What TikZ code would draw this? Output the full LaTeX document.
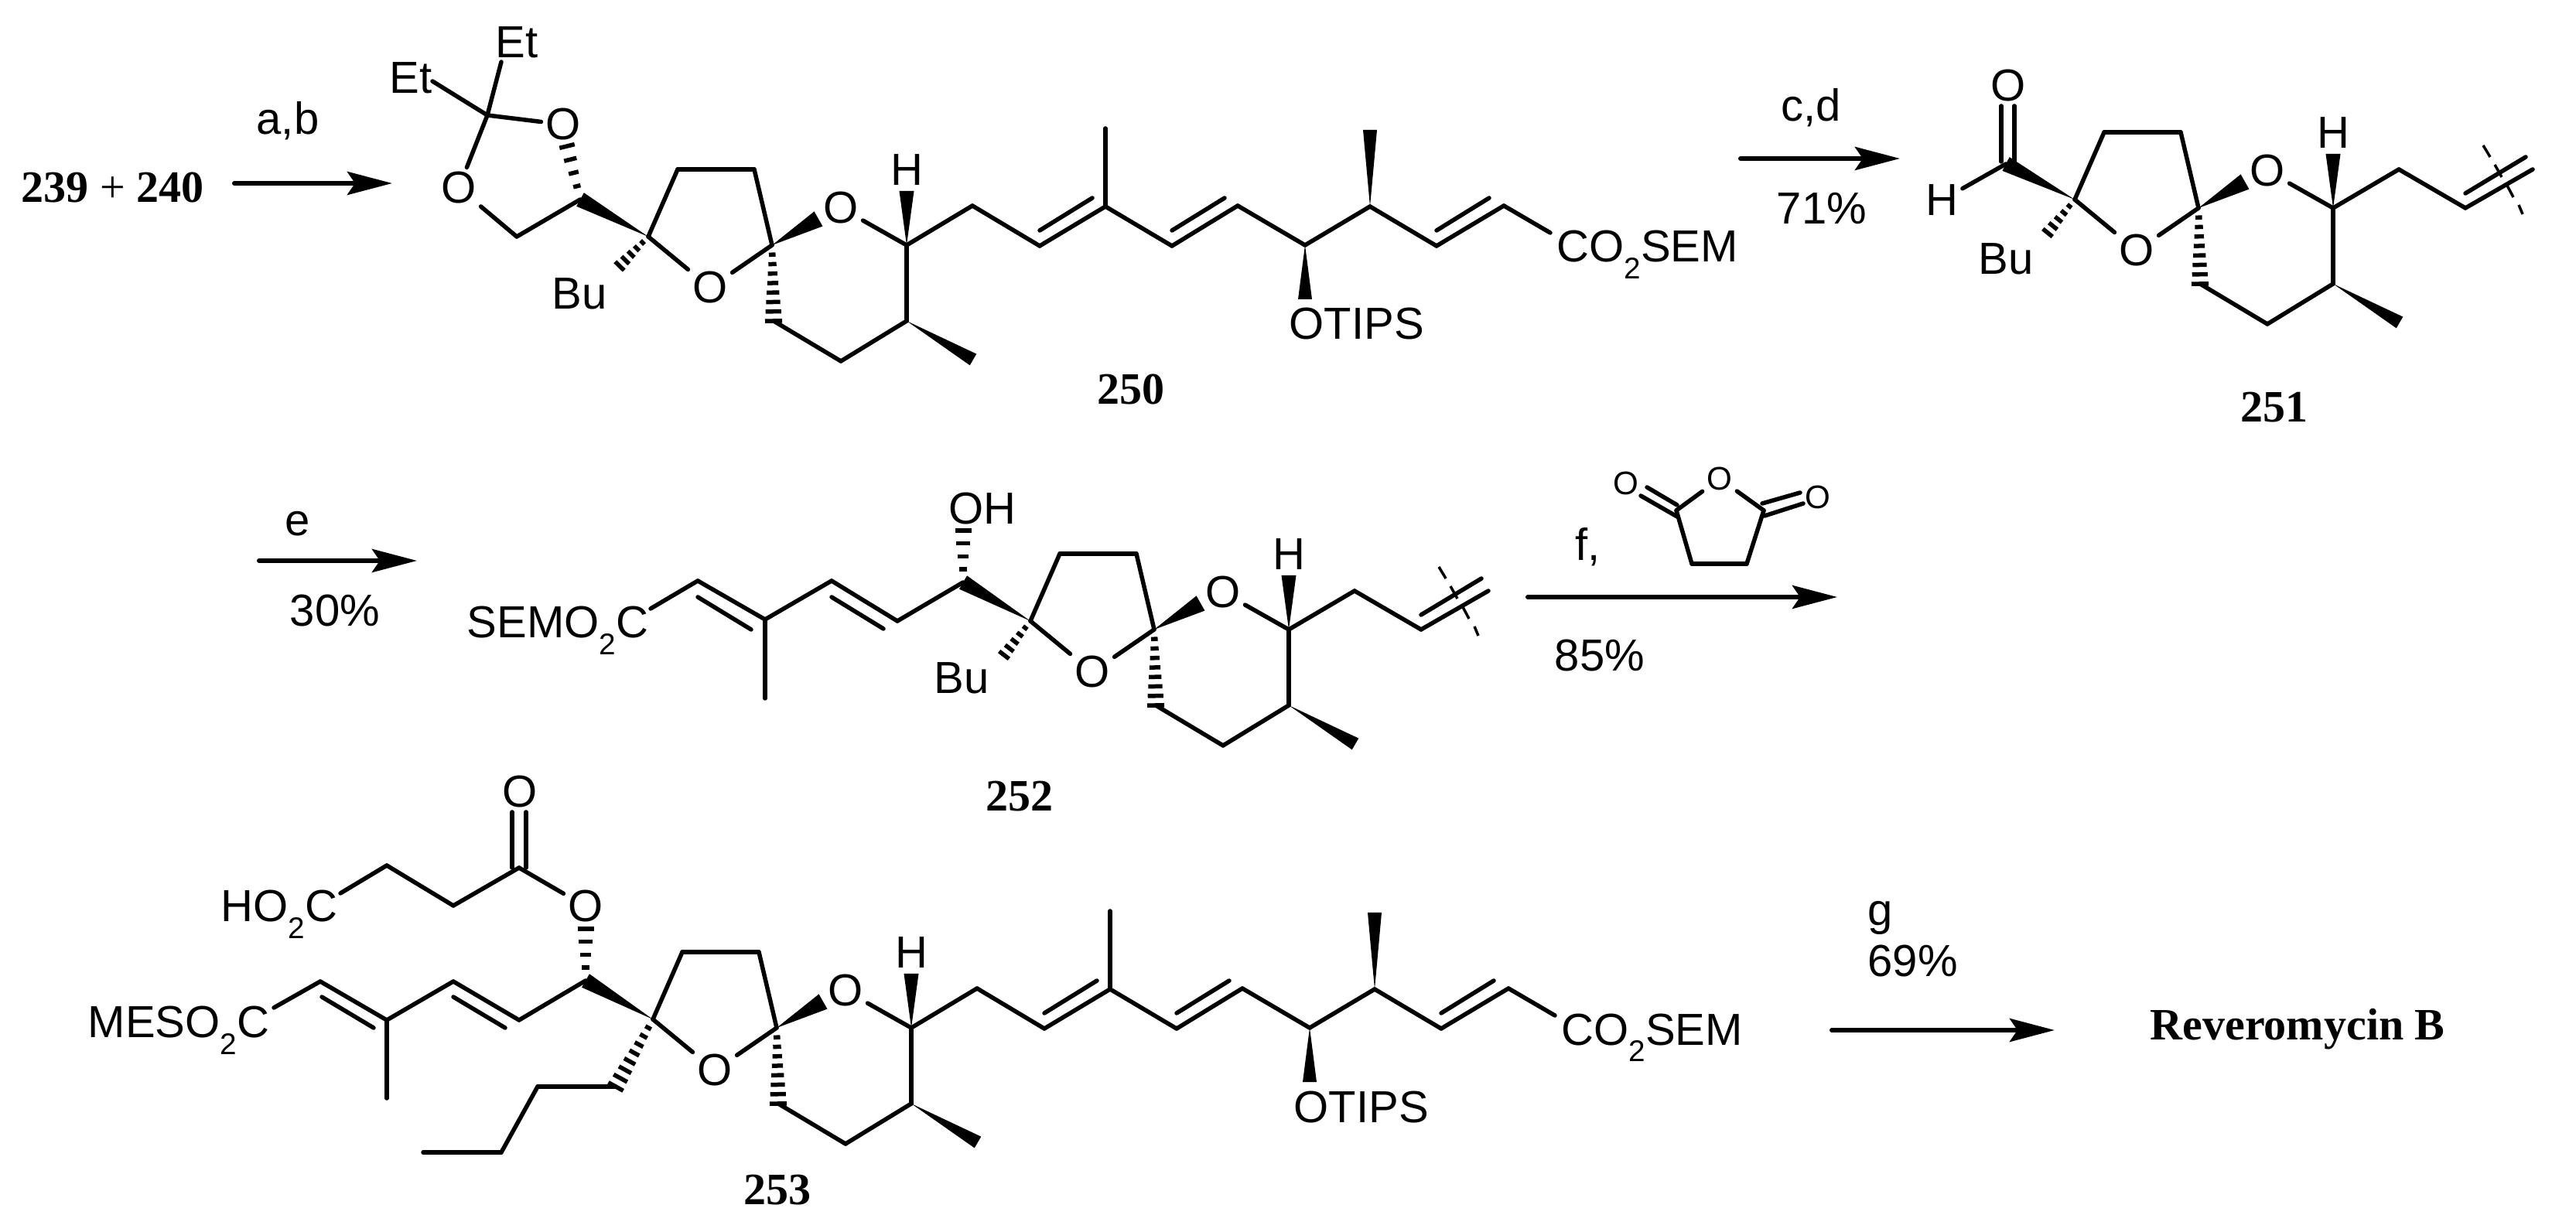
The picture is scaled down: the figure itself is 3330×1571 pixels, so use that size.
\documentclass[tikz,border=0pt]{standalone}
\usepackage{fontspec}
\setmainfont{Liberation Sans}
\newfontfamily\cmpdfont{Liberation Serif}
\usetikzlibrary{arrows.meta,calc}

\tikzset{
	bond/.style={line width=0.055cm,line cap=round},
	hash/.style={line width=0.055cm},
	squig/.style={line width=0.035cm},
	rxn/.style={line width=0.06cm,line cap=round,-{Stealth[length=0.58cm,width=0.3cm,inset=0.1cm]}},
	atom/.style={font=\fontsize{16.5}{18}\selectfont,inner sep=1.5pt},
	txt/.style={font=\fontsize{16.5}{18}\selectfont,inner sep=0pt},
	smallatom/.style={font=\fontsize{12}{14}\selectfont,inner sep=1.5pt},
	cmpd/.style={font=\cmpdfont\fontsize{16.5}{18}\selectfont,inner sep=0pt}
}

\newcommand{\lowtwo}{\raisebox{-6pt}{\fontsize{11}{11}\selectfont 2}}
\newcommand{\wedgebond}[3]{\fill ($(#2)!#3!90:(#1)$) -- (#1) -- ($(#2)!#3!-90:(#1)$) -- cycle;}
\newcommand{\hashbond}[4]{\foreach \i in {1,...,#3}{
	\pgfmathsetmacro{\hf}{\i/#3}
	\coordinate (hp) at ($(#1)!\hf!(#2)$);
	\draw[hash] ($(hp)!{(0.3+0.7*\hf)*#4}!90:(#1)$) -- ($(hp)!{(0.3+0.7*\hf)*#4}!-90:(#1)$);}}

% spiroketal core
\newcommand{\spirocore}[3]{
\begin{scope}[shift={(#2,#3)},name prefix=#1-]
	\coordinate (c2) at (838,306);
	\coordinate (r1) at (876,219);
	\coordinate (r2) at (975,219);
	\coordinate (sp) at (998,317);
	\coordinate (wo) at (1058,283);
	\coordinate (hc) at (1172,317);
	\coordinate (hw) at (1172,247);
	\coordinate (c8) at (1172,415);
	\coordinate (me) at (1258,465);
	\coordinate (c7) at (1087,467);
	\coordinate (c6) at (1000,415);
	\node[atom] (ra) at (918,372) {O};
	\node[atom] (rb) at (1087,269) {O};
	\node[atom] (hl) at (1172,220) {H};

	\path[bond] (c2) edge (r1) (r1) edge (r2) (r2) edge (sp);
	\path[bond] (c2) edge (ra) (sp) edge (ra) (rb) edge (hc);
	\path[bond] (hc) edge (c8) (c8) edge (c7) (c7) edge (c6);
	\wedgebond{sp}{wo}{0.11cm}
	\wedgebond{hc}{hw}{0.095cm}
	\wedgebond{c8}{me}{0.085cm}
	\hashbond{sp}{c6}{8}{0.11cm}
\end{scope}}

% long side chain
\newcommand{\dienechain}[3]{
\begin{scope}[shift={(#2,#3)},name prefix=#1-]
	\coordinate (a0) at (1172,317);
	\coordinate (a1) at (1257,266);
	\coordinate (a2) at (1344,318);
	\coordinate (a3) at (1429,267);
	\coordinate (a3m) at (1429,166);
	\coordinate (a4) at (1515,318);
	\coordinate (a5) at (1600,266);
	\coordinate (a6) at (1687,317);
	\coordinate (a6w) at (1687,387);
	\coordinate (a7) at (1771,267);
	\coordinate (a7w) at (1771,168);
	\coordinate (a8) at (1857,318);
	\coordinate (a9) at (1944,266);
	\coordinate (a10) at (2004,301);
	\coordinate (i1) at (1344,298);
	\coordinate (i2) at (1412,256);
	\coordinate (i3) at (1515,298);
	\coordinate (i4) at (1583,256);
	\coordinate (i5) at (1857,298);
	\coordinate (i6) at (1925,256);
	\node[txt,anchor=base west] (otips) at (1666,439) {OTIPS};
	\node[txt,anchor=base west] (ester) at (2012,339) {CO\lowtwo SEM};

	\path[bond] (a0) edge (a1) (a1) edge (a2) (a2) edge (a3) (a3) edge (a4) (a4) edge (a5);
	\path[bond] (a5) edge (a6) (a6) edge (a7) (a7) edge (a8) (a8) edge (a9) (a9) edge (a10);
	\path[bond] (a3) edge (a3m) (i1) edge (i2) (i3) edge (i4) (i5) edge (i6);
	\wedgebond{a6}{a6w}{0.09cm}
	\wedgebond{a7}{a7w}{0.09cm}
\end{scope}}

% short chain cut by the wavy line
\newcommand{\cutchain}[3]{
\begin{scope}[shift={(#2,#3)},name prefix=#1-]
	\coordinate (a0) at (1172,317);
	\coordinate (a1) at (1257,267);
	\coordinate (a2) at (1343,317);
	\coordinate (a3) at (1430,267);
	\coordinate (i1) at (1343,298);
	\coordinate (i2) at (1421,251);
	\coordinate (w1) at (1366,236);
	\coordinate (w2) at (1375,251);
	\coordinate (w3) at (1381,261);
	\coordinate (w4) at (1390,277);
	\coordinate (w5) at (1397,288);
	\coordinate (w6) at (1405,303);
	\coordinate (w7) at (1412,313);
	\coordinate (w8) at (1417,325);

	\path[bond] (a0) edge (a1) (a1) edge (a2) (a2) edge (a3) (i1) edge (i2);
	\path[squig] (w1) edge (w2) (w3) edge (w4) (w5) edge (w6) (w7) edge (w8);
\end{scope}}

\begin{document}
\begin{tikzpicture}[x=0.01cm,y=-0.01cm]
	\useasboundingbox (0,0) rectangle (3330,1571);

	% first row
	\node[cmpd,anchor=base west] (start) at (27,262) {\textbf{239} + \textbf{240}};
	\coordinate (s1) at (303,237);
	\coordinate (t1) at (507,237);
	\draw[rxn] (s1) -- (t1);
	\node[txt,anchor=base] (ab) at (372,174) {a,b};

	\spirocore{m1}{0}{0}
	\dienechain{d1}{0}{0}
	\node[cmpd,anchor=base] (n250) at (1462,523) {\textbf{250}};

	\coordinate (cq) at (630,149);
	\coordinate (ch) at (750,258);
	\coordinate (cm) at (668,306);
	\coordinate (et1e) at (648,80);
	\coordinate (et2e) at (559,105);
	\coordinate (oh) at (733,189);
	\node[txt,anchor=base west] (et1) at (640,75) {Et};
	\node[txt,anchor=base west] (et2) at (503,121) {Et};
	\node[atom] (oa) at (593,243) {O};
	\node[atom] (ob) at (728,161) {O};
	\path[bond] (cq) edge (et1e) (cq) edge (et2e) (cq) edge (oa) (cq) edge (ob);
	\path[bond] (oa) edge (cm) (cm) edge (ch);
	\hashbond{ch}{oh}{4}{0.1cm}
	\wedgebond{m1-c2}{ch}{0.1cm}
	\coordinate (bu1e) at (801,344);
	\node[atom] (bu1) at (749,380) {Bu};
	\hashbond{m1-c2}{bu1e}{5}{0.08cm}

	\coordinate (s2) at (2250,205);
	\coordinate (t2) at (2456,205);
	\draw[rxn] (s2) -- (t2);
	\node[txt,anchor=base] (cd) at (2341,157) {c,d};
	\node[txt,anchor=base] (y71) at (2355,290) {71\%};

	\spirocore{m2}{1844}{-48}
	\cutchain{e2}{1844}{-48}
	\node[cmpd,anchor=base] (n251) at (2940,546) {\textbf{251}};
	\coordinate (cho) at (2593,212);
	\coordinate (d1) at (2587,209);
	\coordinate (d2) at (2587,137);
	\coordinate (d3) at (2604,209);
	\coordinate (d4) at (2604,137);
	\node[atom] (oald) at (2596,111) {O};
	\node[atom] (hald) at (2510,259) {H};
	\path[bond] (d1) edge (d2) (d3) edge (d4) (cho) edge (hald);
	\wedgebond{m2-c2}{cho}{0.1cm}
	\coordinate (bu2e) at (2647,301);
	\node[atom] (bu2) at (2593,335) {Bu};
	\hashbond{m2-c2}{bu2e}{5}{0.08cm}

	% second row
	\coordinate (s3) at (335,725);
	\coordinate (t3) at (539,725);
	\draw[rxn] (s3) -- (t3);
	\node[txt,anchor=base] (e) at (385,693) {e};
	\node[txt,anchor=base] (y30) at (433,810) {30\%};

	\spirocore{m3}{494}{497}
	\cutchain{e3}{494}{497}
	\node[cmpd,anchor=base] (n252) at (1318,1049) {\textbf{252}};
	\node[txt,anchor=base west] (sem3) at (603,825) {SEMO\lowtwo C};
	\coordinate (b0) at (841,787);
	\coordinate (b1) at (902,751);
	\coordinate (b2) at (989,801);
	\coordinate (b2m) at (989,903);
	\coordinate (b3) at (1075,751);
	\coordinate (b4) at (1160,803);
	\coordinate (b5) at (1245,753);
	\coordinate (b5h) at (1245,686);
	\coordinate (j1) at (902,772);
	\coordinate (j2) at (971,814);
	\coordinate (j3) at (1075,772);
	\coordinate (j4) at (1142,813);
	\node[txt,anchor=base west] (oh3) at (1226,678) {OH};
	\path[bond] (b0) edge (b1) (b1) edge (b2) (b2) edge (b2m) (b2) edge (b3) (b3) edge (b4) (b4) edge (b5);
	\path[bond] (j1) edge (j2) (j3) edge (j4);
	\hashbond{b5}{b5h}{4}{0.105cm}
	\wedgebond{m3-c2}{b5}{0.1cm}
	\coordinate (bu3e) at (1298,847);
	\node[atom] (bu3) at (1243,877) {Bu};
	\hashbond{m3-c2}{bu3e}{5}{0.08cm}

	\coordinate (s4) at (1975,772);
	\coordinate (t4) at (2375,772);
	\draw[rxn] (s4) -- (t4);
	\node[txt,anchor=base west] (f) at (2036,725) {f,};
	\node[txt,anchor=base] (y85) at (2068,868) {85\%};

	\coordinate (k1) at (2167,660);
	\coordinate (k2) at (2280,660);
	\coordinate (k3) at (2258,729);
	\coordinate (k4) at (2187,729);
	\coordinate (l1) at (2168,653);
	\coordinate (l2) at (2129,630);
	\coordinate (l3) at (2168,668);
	\coordinate (l4) at (2121,641);
	\coordinate (l5) at (2278,651);
	\coordinate (l6) at (2327,637);
	\coordinate (l7) at (2281,667);
	\coordinate (l8) at (2331,651);
	\node[smallatom] (ok) at (2223,619) {O};
	\node[smallatom] (okl) at (2102,625) {O};
	\node[smallatom] (okr) at (2350,643) {O};
	\path[bond] (k1) edge (ok) (k2) edge (ok) (k2) edge (k3) (k3) edge (k4) (k4) edge (k1);
	\path[bond] (l1) edge (l2) (l3) edge (l4) (l5) edge (l6) (l7) edge (l8);

	% third row
	\spirocore{m4}{6}{1012}
	\dienechain{d4}{6}{1012}
	\node[cmpd,anchor=base] (n253) at (1005,1557) {\textbf{253}};
	\node[txt,anchor=base west] (acid) at (285,1192) {HO\lowtwo C};
	\node[txt,anchor=base west] (mes) at (113,1342) {MESO\lowtwo C};
	\coordinate (p0) at (440,1155);
	\coordinate (p1) at (500,1119);
	\coordinate (p2) at (586,1171);
	\coordinate (p3) at (671,1122);
	\coordinate (p3a) at (662,1122);
	\coordinate (p3b) at (662,1050);
	\coordinate (p3c) at (680,1122);
	\coordinate (p3d) at (680,1050);
	\node[atom] (ocarb) at (672,1024) {O};
	\node[atom] (oest) at (757,1172) {O};
	\coordinate (g0) at (354,1303);
	\coordinate (g1) at (414,1269);
	\coordinate (g2) at (500,1319);
	\coordinate (g2m) at (500,1420);
	\coordinate (g3) at (586,1269);
	\coordinate (g4) at (671,1319);
	\coordinate (g5) at (757,1268);
	\coordinate (g5o) at (757,1201);
	\coordinate (h1) at (416,1289);
	\coordinate (h2) at (483,1329);
	\coordinate (h3) at (586,1289);
	\coordinate (h4) at (653,1329);
	\path[bond] (p0) edge (p1) (p1) edge (p2) (p2) edge (p3) (p3) edge (oest);
	\path[bond] (p3a) edge (p3b) (p3c) edge (p3d);
	\path[bond] (g0) edge (g1) (g1) edge (g2) (g2) edge (g2m) (g2) edge (g3) (g3) edge (g4) (g4) edge (g5);
	\path[bond] (h1) edge (h2) (h3) edge (h4);
	\hashbond{g5}{g5o}{4}{0.105cm}
	\wedgebond{m4-c2}{g5}{0.1cm}
	\coordinate (u1) at (796,1405);
	\coordinate (u2) at (695,1405);
	\coordinate (u3) at (648,1490);
	\coordinate (u4) at (547,1490);
	\path[bond] (u1) edge (u2) (u2) edge (u3) (u3) edge (u4);
	\hashbond{m4-c2}{u1}{8}{0.11cm}

	\coordinate (s5) at (2368,1332);
	\coordinate (t5) at (2656,1332);
	\draw[rxn] (s5) -- (t5);
	\node[txt,anchor=base west] (g) at (2414,1197) {g};
	\node[txt,anchor=base west] (y69) at (2414,1263) {69\%};
	\node[cmpd,anchor=base west] (rev) at (2779,1344) {\textbf{Reveromycin B}};
\end{tikzpicture}
\end{document}
